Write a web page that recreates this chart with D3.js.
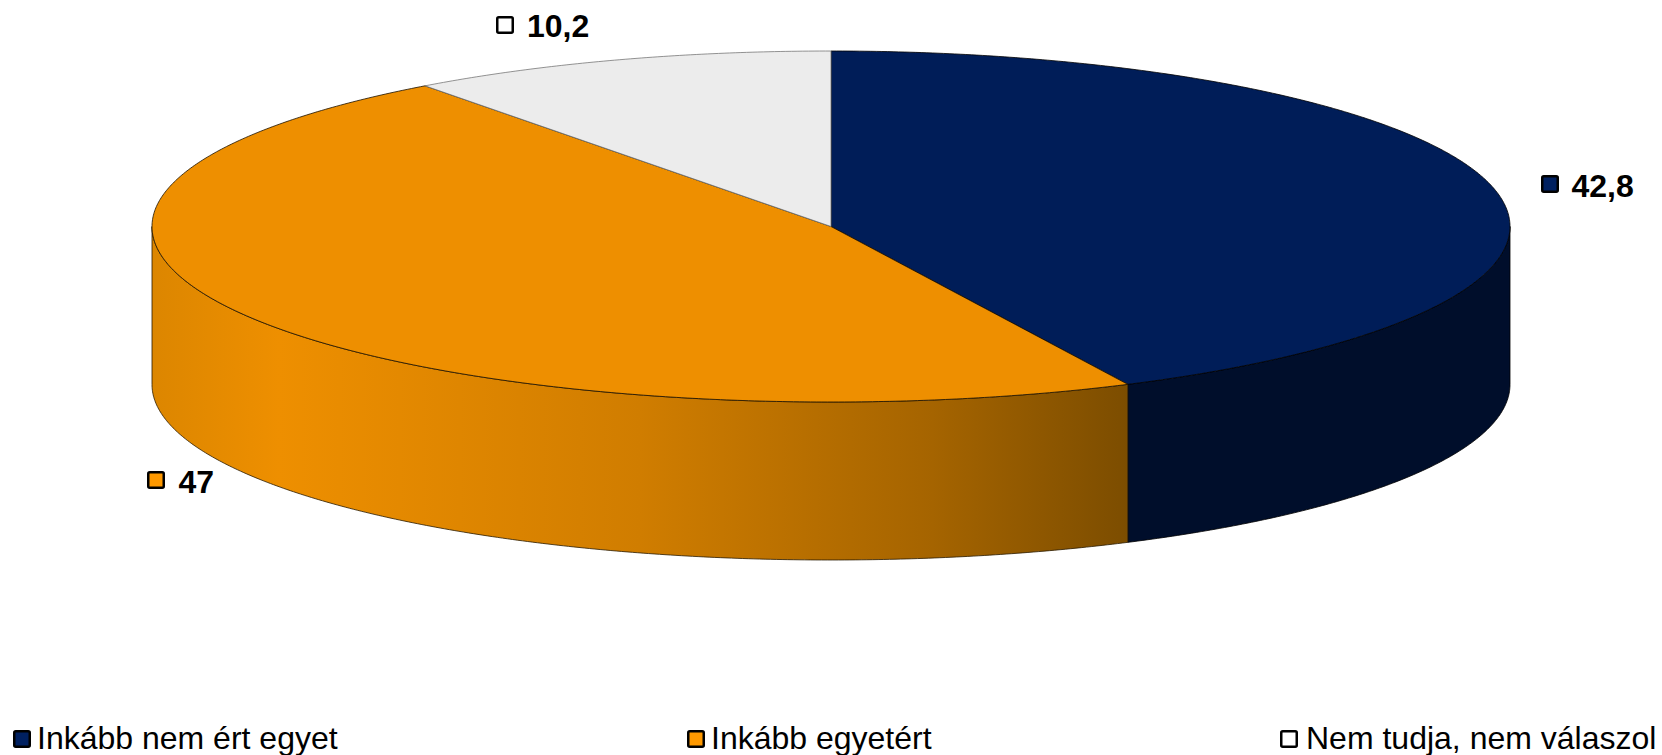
<!DOCTYPE html>
<html><head><meta charset="utf-8">
<script src="https://cdn.jsdelivr.net/npm/d3@7/dist/d3.min.js"></script>
<style>html,body{margin:0;padding:0;background:#fff;overflow:hidden}svg{display:block}text{font-family:"Liberation Sans",Arial,sans-serif;fill:#000}</style>
</head><body><svg id="c" width="1662" height="755"></svg>
<script>
const categories = ["Inkább nem ért egyet", "Inkább egyetért", "Nem tudja, nem válaszol"];
const values = [42.8, 47, 10.2];
const valueLabels = ["42,8", "47", "10,2"];
const topColors = ["#001d58", "#ee8f00", "#ececec"];
const keyColors = ["#002060", "#ff9900", "#ffffff"];
const sideColors = ["#000e2b", "url(#orangeSide)", "#ececec"];
const edgeColors = ["#000", "#1a1000", "#777"];

const svg = d3.select("#c");
const cx = 831, cy = 226.5, rx = 679, ry = 175.5, depth = 158;
const sx = d3.scaleLinear().domain([-1, 1]).range([cx - rx, cx + rx]);
const sy = d3.scaleLinear().domain([-1, 1]).range([cy - ry, cy + ry]);
const pt = (a, dy = 0) => [sx(Math.sin(a)), sy(-Math.cos(a)) + dy];
const arcPts = (a0, a1, dy = 0) => {
  const n = Math.max(2, Math.ceil((a1 - a0) * 120));
  return d3.range(n + 1).map(i => pt(a0 + (a1 - a0) * i / n, dy));
};
const line = d3.line();
const pies = d3.pie().sort(null).value(d => d)(values);

const defs = svg.append("defs");
const grad = defs.append("linearGradient").attr("id", "orangeSide")
  .attr("gradientUnits", "userSpaceOnUse").attr("x1", 152).attr("x2", 1128).attr("y1", 0).attr("y2", 0);
[[0, "#dc8600"], [0.13, "#ee8f00"], [0.5, "#d07d00"], [0.8, "#a56400"], [1, "#7c4d00"]]
  .forEach(([o, c]) => grad.append("stop").attr("offset", o).attr("stop-color", c));

// side walls: visible lower half of the disc
const lo = Math.PI / 2, hi = Math.PI * 1.5;
pies.forEach((p, i) => {
  const a0 = Math.max(p.startAngle, lo), a1 = Math.min(p.endAngle, hi);
  if (a1 <= a0) return;
  const poly = arcPts(a0, a1).concat(arcPts(a0, a1, depth).reverse());
  svg.append("path").attr("d", line(poly) + "Z").attr("fill", sideColors[i])
    .attr("stroke", i === 0 ? "#000" : "#2a1a00").attr("stroke-width", 0.8).attr("stroke-linejoin", "round");
});

// top face
pies.forEach((p, i) => {
  const poly = [[sx(0), sy(0)]].concat(arcPts(p.startAngle, p.endAngle));
  svg.append("path").attr("d", line(poly) + "Z").attr("fill", topColors[i])
    .attr("stroke", edgeColors[i]).attr("stroke-width", 0.8).attr("stroke-linejoin", "round");
});

// data labels
const labelBoxes = [[1541, 175], [147, 471], [496, 16]];
const labelText = [[1571.5, 197], [178.5, 493], [527, 37]];
valueLabels.forEach((t, i) => {
  svg.append("rect").attr("x", labelBoxes[i][0] + 1.25).attr("y", labelBoxes[i][1] + 1.25)
    .attr("width", 15.5).attr("height", 15.5).attr("rx", 1.5).attr("fill", keyColors[i])
    .attr("stroke", "#000").attr("stroke-width", 2.5);
  svg.append("text").attr("x", labelText[i][0]).attr("y", labelText[i][1])
    .attr("font-size", 32).attr("font-weight", 700).text(t);
});

// legend
const legendBoxes = [13, 687, 1280];
const legendText = [37, 711, 1306];
categories.forEach((t, i) => {
  svg.append("rect").attr("x", legendBoxes[i] + 1.25).attr("y", 731.25)
    .attr("width", 15.5).attr("height", 15.5).attr("rx", 1.5).attr("fill", keyColors[i])
    .attr("stroke", "#000").attr("stroke-width", 2.5);
  svg.append("text").attr("x", legendText[i]).attr("y", 749).attr("font-size", 32).text(t);
});
</script></body></html>
